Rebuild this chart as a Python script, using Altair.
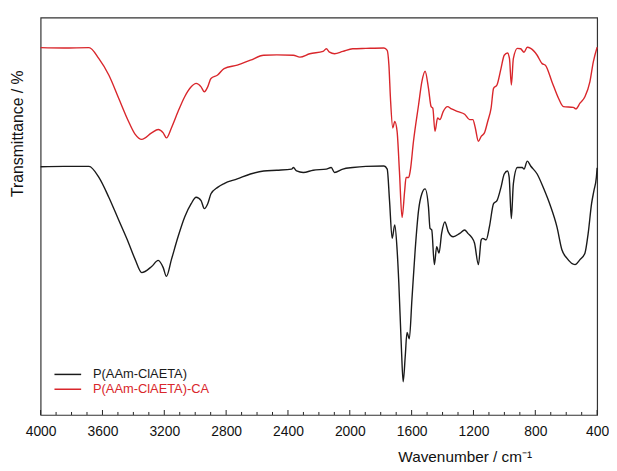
import altair as alt
import pandas as pd

series_names = ["P(AAm-ClAETA)", "P(AAm-ClAETA)-CA"]
series_colors = ["#1a1a1a", "#d9262b"]

wn_black = [4000, 3850, 3687, 3623, 3559, 3495, 3431, 3388, 3346, 3282,
            3239, 3207, 3186, 3154, 3111, 3068, 3026, 2994, 2962, 2941,
            2919, 2898, 2855, 2813, 2728, 2643, 2557, 2472, 2376, 2365,
            2344, 2301, 2237, 2152, 2120, 2099, 2045, 1981, 1896, 1779,
            1758, 1743, 1726, 1709, 1694, 1683, 1666, 1655, 1641, 1630,
            1615, 1598, 1577, 1555, 1534, 1513, 1491, 1481, 1470, 1453,
            1438, 1423, 1406, 1385, 1363, 1331, 1289, 1257, 1236, 1214,
            1193, 1168, 1150, 1140, 1118, 1097, 1070, 1048, 1022, 1001,
            980, 969, 955, 942, 916, 884, 873, 852, 830, 788,
            745, 703, 660, 628, 596, 543, 511, 479, 458, 436,
            421, 405, 400]
t_black = [60.8, 60.9, 60.9, 58.0, 52.8, 46.8, 40.8, 36.4, 33.0, 34.6,
           36.2, 34.3, 32.0, 36.4, 42.4, 47.6, 51.1, 52.8, 51.9, 49.8,
           51.1, 53.7, 55.4, 56.4, 57.6, 58.9, 59.7, 59.9, 60.2, 60.6,
           59.7, 59.3, 59.9, 60.2, 60.6, 59.3, 60.2, 60.6, 60.9, 61.0,
           60.2, 51.9, 42.0, 45.5, 39.0, 30.4, 13.0, 4.3, 11.2, 17.3,
           15.6, 26.0, 39.0, 49.4, 53.7, 55.0, 50.2, 44.6, 44.2, 35.1,
           39.8, 38.1, 43.3, 46.3, 43.7, 42.4, 43.3, 44.2, 43.3, 42.4,
           40.7, 35.1, 41.6, 42.0, 41.6, 45.0, 51.1, 51.9, 55.4, 58.9,
           59.7, 58.0, 47.2, 56.3, 60.6, 60.6, 60.2, 62.3, 61.0, 58.9,
           55.0, 50.6, 45.0, 39.0, 36.8, 35.1, 36.4, 38.1, 43.3, 51.1,
           54.5, 58.0, 60.5]

wn_red = [4000, 3850, 3687, 3623, 3559, 3495, 3431, 3388, 3346, 3282,
          3239, 3207, 3186, 3154, 3111, 3068, 3026, 2994, 2962, 2941,
          2919, 2898, 2855, 2813, 2728, 2643, 2557, 2472, 2365, 2323,
          2259, 2173, 2152, 2131, 2099, 2045, 1981, 1896, 1779, 1758,
          1747, 1737, 1722, 1709, 1694, 1679, 1662, 1645, 1636, 1619,
          1609, 1588, 1555, 1534, 1513, 1491, 1474, 1463, 1449, 1432,
          1417, 1396, 1368, 1342, 1300, 1257, 1225, 1204, 1188, 1168,
          1150, 1129, 1108, 1086, 1070, 1048, 1022, 1001, 980, 967,
          955, 942, 916, 895, 873, 852, 830, 788, 756, 735,
          692, 650, 618, 554, 537, 511, 479, 447, 425, 400]
t_red = [92.1, 92.0, 92.1, 89.2, 84.9, 78.8, 72.7, 69.3, 68.0, 69.7,
         70.6, 69.7, 68.4, 71.0, 75.3, 79.2, 81.8, 82.7, 81.8, 80.5,
         81.8, 84.0, 84.9, 86.6, 87.5, 88.8, 90.1, 90.2, 90.1, 89.6,
         90.5, 91.1, 91.8, 90.9, 90.5, 91.1, 91.8, 91.9, 92.0, 91.4,
         87.5, 78.8, 71.0, 72.7, 70.1, 59.7, 47.5, 54.5, 58.0, 58.0,
         59.7, 67.5, 77.1, 83.1, 85.9, 81.4, 76.6, 76.2, 70.1, 73.6,
         73.2, 75.3, 76.6, 76.0, 75.3, 74.6, 73.2, 73.2, 71.0, 67.5,
         68.8, 69.7, 72.7, 76.2, 81.4, 82.3, 86.6, 90.1, 90.7, 89.2,
         82.3, 89.2, 91.9, 91.8, 90.9, 92.2, 91.9, 90.1, 87.9, 87.5,
         83.1, 78.8, 76.6, 76.4, 76.0, 77.5, 79.2, 83.1, 88.3, 92.2]

major_ticks = list(range(4000, 399, -400))
minor_ticks = [w for w in range(4000, 399, -100) if w % 400 != 0]

FONT = "Liberation Sans"
W, H = 563, 402

df = pd.concat([
    pd.DataFrame({"wn": wn_black, "T": t_black, "series": series_names[0]}),
    pd.DataFrame({"wn": wn_red, "T": t_red, "series": series_names[1]}),
])

x_enc = alt.X(
    "wn:Q",
    scale=alt.Scale(domain=[400, 4000], reverse=True, nice=False, zero=False),
    axis=alt.Axis(
        values=major_ticks, ticks=False, tickSize=0, domain=False, grid=False,
        labelFont=FONT, labelFontSize=14, labelColor="#111", labelPadding=10,
        labelFlush=False, format="d",
        title="Wavenumber / cm\u207b\u00b9", titleFont=FONT, titleFontSize=15.5,
        titleFontWeight="normal", titleColor="#111",
        titleX=429, titleY=42, titleAlign="center", titleBaseline="middle",
    ),
)

lines = alt.Chart(df).mark_line(strokeWidth=1.4, interpolate="monotone").encode(
    x=x_enc,
    y=alt.Y(
        "T:Q",
        scale=alt.Scale(domain=[-4.4, 100], nice=False, zero=False),
        axis=alt.Axis(
            labels=False, ticks=False, domain=False, grid=False,
            title="Transmittance / %", titleFont=FONT, titleFontSize=16,
            titleFontWeight="normal", titleColor="#111",
            titleX=-23, titleY=117, titleAlign="center", titleBaseline="middle",
            titleAngle=270,
        ),
    ),
    color=alt.Color("series:N", scale=alt.Scale(domain=series_names, range=series_colors), legend=None),
    order=alt.Order("series:N"),
)

major_df = pd.DataFrame({"wn": major_ticks})
minor_df = pd.DataFrame({"wn": minor_ticks})
major_layer = alt.Chart(major_df).mark_rule(color="#222", strokeWidth=1).encode(
    x=x_enc, y=alt.value(H), y2=alt.value(H - 5)
)
minor_layer = alt.Chart(minor_df).mark_rule(color="#222", strokeWidth=1).encode(
    x=x_enc, y=alt.value(H), y2=alt.value(H - 3)
)

one = pd.DataFrame({"k": [0]})
legend_layers = []
legend_y = [361, 376]
for name, col, ly in zip(series_names, series_colors, legend_y):
    legend_layers.append(
        alt.Chart(one).mark_rule(color=col, strokeWidth=1.5).encode(
            x=alt.value(14), x2=alt.value(41), y=alt.value(ly)
        )
    )
    legend_layers.append(
        alt.Chart(one).mark_text(align="left", baseline="middle", font=FONT, fontSize=13, color=col).encode(
            x=alt.value(53), y=alt.value(ly), text=alt.value(name)
        )
    )

chart = alt.layer(lines, major_layer, minor_layer, *legend_layers).properties(
    width=W, height=H,
    padding={"left": 33, "top": 7, "right": 12, "bottom": 52},
    autosize=alt.AutoSizeParams(type="none"),
).configure_view(stroke="#333", strokeWidth=1.2)

chart.save("out.html", embed_options={"renderer": "svg", "actions": False})
